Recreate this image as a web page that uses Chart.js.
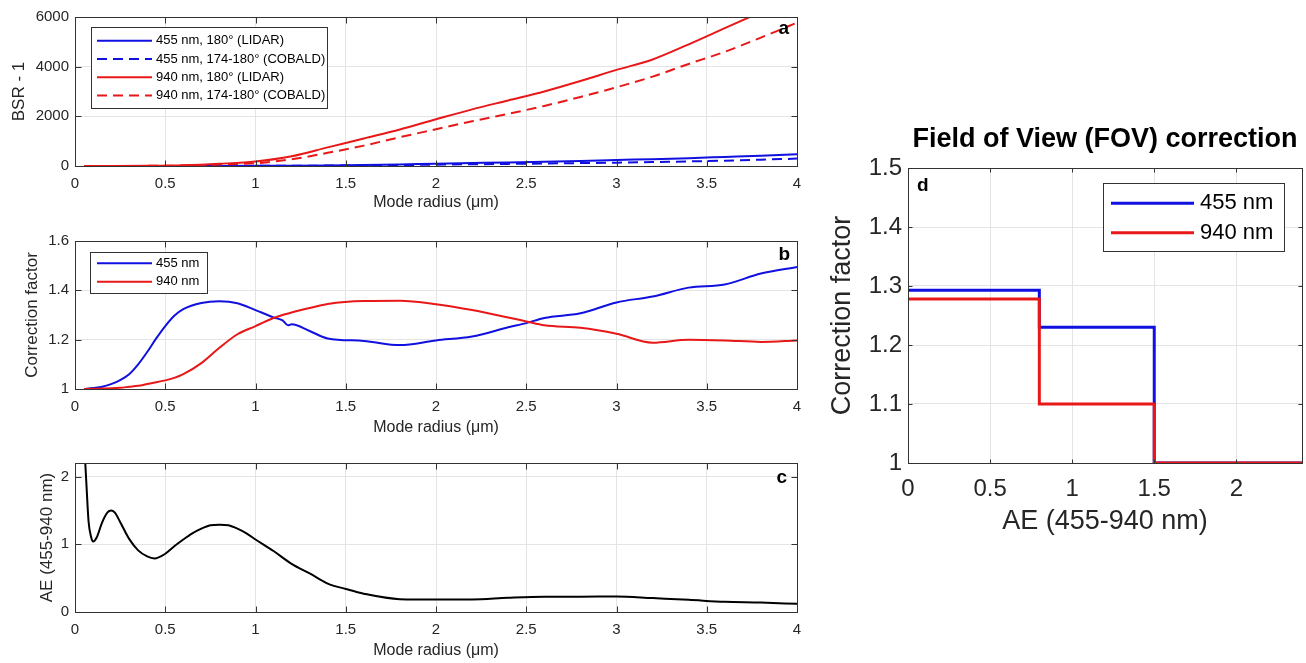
<!DOCTYPE html>
<html>
<head>
<meta charset="utf-8">
<script src="https://cdn.jsdelivr.net/npm/chart.js@4.4.1/dist/chart.umd.min.js"></script>
<style>
  body { margin: 0; background: #fff; width: 1306px; height: 663px; overflow: hidden; position: relative; }
  canvas { position: absolute; }
</style>
</head>
<body>
<canvas id="chartA" style="left:0;top:0" width="815" height="220"></canvas>
<canvas id="chartB" style="left:0;top:222px" width="815" height="220"></canvas>
<canvas id="chartC" style="left:0;top:444px" width="815" height="219"></canvas>
<canvas id="chartD" style="left:820px;top:100px" width="486" height="450"></canvas>
<script>
// ===== 데이터 =====
// 공통 x축 (Mode radius, μm)
const radiusTicks = [0, 0.5, 1, 1.5, 2, 2.5, 3, 3.5, 4];
const radiusTickLabels = ["0", "0.5", "1", "1.5", "2", "2.5", "3", "3.5", "4"];

// a: BSR - 1
const aRadius = [0.05, 0.2, 0.4, 0.6, 0.8, 1.0, 1.2, 1.4, 1.6, 1.8, 2.0, 2.2, 2.4, 2.6, 2.8, 3.0, 3.2, 3.4, 3.6, 3.8, 4.0];
const bsr455Lidar = [0, 0, 0, 1, 3, 8, 15, 25, 40, 65, 95, 120, 145, 175, 205, 243, 275, 315, 365, 415, 475];
const bsr455Cobald = [0, 0, 0, 1, 2, 5, 10, 16, 25, 38, 55, 70, 85, 100, 118, 135, 160, 185, 215, 255, 297];
const bsr940Lidar = [0, 1, 8, 30, 90, 180, 390, 750, 1110, 1470, 1880, 2280, 2640, 3000, 3420, 3870, 4290, 4900, 5550, 6200, 6850];
const bsr940Cobald = [0, 0, 5, 20, 60, 110, 270, 530, 820, 1160, 1480, 1800, 2100, 2420, 2780, 3170, 3600, 4110, 4600, 5170, 5770];
const aYTicks = [0, 2000, 4000, 6000];
const aYTickLabels = ["0", "2000", "4000", "6000"];

// b: Correction factor
const bRadius = [0.05, 0.1, 0.15, 0.2, 0.25, 0.3, 0.35, 0.4, 0.45, 0.5, 0.55, 0.6, 0.7, 0.8, 0.9, 1.0, 1.05, 1.1, 1.15, 1.18,
  1.2, 1.3, 1.4, 1.6, 1.8, 2.0, 2.2, 2.4, 2.5, 2.6, 2.8, 3.0, 3.2, 3.4, 3.6, 3.8, 4.0];
const corr455 = [1.0, 1.004, 1.009, 1.02, 1.036, 1.06, 1.1, 1.15, 1.205, 1.255, 1.297, 1.324, 1.349, 1.356, 1.348, 1.32, 1.305, 1.29, 1.278, 1.258,
  1.262, 1.235, 1.205, 1.195, 1.178, 1.197, 1.213, 1.25, 1.267, 1.288, 1.307, 1.351, 1.375, 1.411, 1.424, 1.468, 1.495];
const corr940 = [1.0, 1.001, 1.002, 1.003, 1.005, 1.009, 1.013, 1.02, 1.027, 1.035, 1.045, 1.06, 1.105, 1.167, 1.222, 1.255, 1.272, 1.288, 1.3, 1.306,
  1.31, 1.328, 1.345, 1.357, 1.358, 1.344, 1.32, 1.29, 1.274, 1.258, 1.248, 1.224, 1.188, 1.2, 1.197, 1.191, 1.197];
const bYTicks = [1, 1.2, 1.4, 1.6];
const bYTickLabels = ["1", "1.2", "1.4", "1.6"];

// c: AE (455-940 nm)
const cRadius = [0.056, 0.065, 0.075, 0.09, 0.1, 0.12, 0.15, 0.18, 0.2, 0.22, 0.25, 0.3, 0.35, 0.4, 0.44, 0.5, 0.55, 0.6, 0.65, 0.7,
  0.75, 0.8, 0.85, 0.9, 0.95, 1.0, 1.1, 1.2, 1.3, 1.4, 1.5, 1.6, 1.8, 2.0, 2.2, 2.4, 2.6, 2.8, 3.0, 3.2, 3.4, 3.6, 3.8, 4.0];
const aeValues = [2.25, 1.8, 1.34, 1.1, 1.04, 1.1, 1.32, 1.47, 1.5, 1.47, 1.33, 1.08, 0.91, 0.82, 0.79, 0.86, 0.97, 1.07, 1.16, 1.23,
  1.28, 1.29, 1.28, 1.23, 1.16, 1.07, 0.9, 0.71, 0.57, 0.42, 0.34, 0.27, 0.19, 0.185, 0.185, 0.21, 0.225, 0.225, 0.23, 0.205, 0.18, 0.15, 0.14, 0.12];
const cYTicks = [0, 1, 2];
const cYTickLabels = ["0", "1", "2"];

// d: FOV correction (계단형)
const dAE = [0, 0.8, 1.5, 2.4];
const fov455 = [1.293, 1.23, 1.0, 1.0];
const fov940 = [1.278, 1.1, 1.0, 1.0];
const dXTicks = [0, 0.5, 1, 1.5, 2];
const dXTickLabels = ["0", "0.5", "1", "1.5", "2"];
const dYTicks = [1, 1.1, 1.2, 1.3, 1.4, 1.5];
const dYTickLabels = ["1", "1.1", "1.2", "1.3", "1.4", "1.5"];

// ===== 스타일 =====
const BLUE = "#1010e0";
const RED = "#e81818";
const GRID = "#e4e4e4";
const BOX = "#333333";

Chart.defaults.font.family = '"Liberation Sans", Arial, Helvetica, sans-serif';
Chart.defaults.color = "#262626";
Chart.defaults.animation = false;

// x, y 배열 → {x, y} 점
function toPoints(xs, ys) {
  return xs.map((x, i) => ({ x, y: ys[i] }));
}

// MATLAB 스타일 박스 + 안쪽 눈금
const matlabAxes = {
  id: "matlabAxes",
  afterDatasetsDraw(chart, args, opts) {
    const { ctx, chartArea: area, scales } = chart;
    const tl = opts.tickLength || 6;
    const left = Math.round(area.left) + 0.5;
    const right = Math.round(area.right) + 0.5;
    const top = Math.round(area.top) + 0.5;
    const bottom = Math.round(area.bottom) + 0.5;
    ctx.save();
    ctx.strokeStyle = BOX;
    ctx.lineWidth = 1;
    ctx.setLineDash([]);
    ctx.beginPath();
    scales.x.ticks.forEach((t) => {
      const px = Math.round(scales.x.getPixelForValue(t.value)) + 0.5;
      ctx.moveTo(px, bottom);
      ctx.lineTo(px, bottom - tl);
      ctx.moveTo(px, top);
      ctx.lineTo(px, top + tl);
    });
    scales.y.ticks.forEach((t) => {
      const py = Math.round(scales.y.getPixelForValue(t.value)) + 0.5;
      ctx.moveTo(left, py);
      ctx.lineTo(left + tl, py);
      ctx.moveTo(right, py);
      ctx.lineTo(right - tl, py);
    });
    ctx.stroke();
    ctx.strokeRect(left, top, right - left, bottom - top);
    ctx.restore();
  },
};

// 패널 안쪽 범례
const insideLegend = {
  id: "insideLegend",
  afterDraw(chart, args, opts) {
    if (!opts.box) return;
    const { ctx } = chart;
    const [x, y, w, h] = opts.box;
    ctx.save();
    ctx.fillStyle = "#fff";
    ctx.fillRect(x, y, w, h);
    ctx.strokeStyle = BOX;
    ctx.lineWidth = 1;
    ctx.strokeRect(x + 0.5, y + 0.5, w, h);
    ctx.font = opts.font;
    ctx.textBaseline = "middle";
    chart.data.datasets.forEach((ds, i) => {
      const ry = opts.firstRow + i * opts.rowGap;
      ctx.strokeStyle = ds.borderColor;
      ctx.lineWidth = ds.borderWidth;
      ctx.setLineDash(ds.borderDash || []);
      ctx.beginPath();
      ctx.moveTo(opts.lineX[0], ry);
      ctx.lineTo(opts.lineX[1], ry);
      ctx.stroke();
      ctx.fillStyle = "#000";
      ctx.fillText(ds.label, opts.textX, ry);
    });
    ctx.restore();
  },
};

// 패널 글자 (a, b, c, d)
const panelLetter = {
  id: "panelLetter",
  afterDraw(chart, args, opts) {
    if (!opts.text) return;
    const { ctx } = chart;
    ctx.save();
    ctx.font = "bold 19px " + Chart.defaults.font.family;
    ctx.fillStyle = "#000";
    ctx.textAlign = opts.align || "right";
    ctx.textBaseline = "middle";
    ctx.fillText(opts.text, opts.x, opts.y);
    ctx.restore();
  },
};

Chart.register(matlabAxes, insideLegend, panelLetter);

// 왼쪽 세 패널 공통 x축
function radiusAxis(height, titlePad) {
  return {
    type: "linear",
    min: 0,
    max: 4,
    afterBuildTicks: (s) => { s.ticks = radiusTicks.map((v) => ({ value: v })); },
    afterFit: (s) => { s.height = height; },
    grid: { color: GRID, drawTicks: false },
    border: { display: false },
    ticks: {
      autoSkip: false,
      maxRotation: 0,
      padding: 9,
      font: { size: 15 },
      callback: (v, i) => radiusTickLabels[i],
    },
    title: { display: true, text: "Mode radius (μm)", font: { size: 16 }, padding: { top: 0, bottom: titlePad } },
  };
}

function valueAxis(min, max, ticks, labels, title, titlePad, width, tickFont) {
  return {
    type: "linear",
    min,
    max,
    afterBuildTicks: (s) => { s.ticks = ticks.map((v) => ({ value: v })); },
    afterFit: (s) => { s.width = width; },
    grid: { color: GRID, drawTicks: false },
    border: { display: false },
    ticks: { padding: 6, font: { size: tickFont }, callback: (v, i) => labels[i] },
    title: { display: true, text: title, font: { size: tickFont === 15 ? 17 : 27 }, padding: { top: titlePad, bottom: 0 } },
  };
}

// order 값이 작을수록 위에 그려짐 (MATLAB처럼 나중 선이 위로)
function line(label, xs, ys, color, order, extra) {
  return Object.assign({
    label,
    data: toPoints(xs, ys),
    borderColor: color,
    backgroundColor: color,
    borderWidth: 2,
    pointRadius: 0,
    fill: false,
    order,
    cubicInterpolationMode: "monotone",
  }, extra || {});
}

// ===== a =====
new Chart(document.getElementById("chartA"), {
  type: "line",
  data: {
    datasets: [
      line("455 nm, 180° (LIDAR)", aRadius, bsr455Lidar, BLUE, 4),
      line("455 nm, 174-180° (COBALD)", aRadius, bsr455Cobald, BLUE, 3, { borderDash: [10, 6] }),
      line("940 nm, 180° (LIDAR)", aRadius, bsr940Lidar, RED, 2),
      line("940 nm, 174-180° (COBALD)", aRadius, bsr940Cobald, RED, 1, { borderDash: [10, 6] }),
    ],
  },
  options: {
    responsive: false,
    layout: { padding: { top: 17, right: 18, left: 0, bottom: 0 } },
    scales: {
      x: radiusAxis(54, 7.4),
      y: valueAxis(0, 6000, aYTicks, aYTickLabels, "BSR - 1", 8.8, 75, 15),
    },
    plugins: {
      legend: { display: false },
      tooltip: { enabled: false },
      matlabAxes: { tickLength: 6 },
      insideLegend: { box: [91, 27, 236, 81], firstRow: 40.7, rowGap: 18.3, lineX: [97, 152], textX: 156, font: "13px " + Chart.defaults.font.family },
      panelLetter: { text: "a", x: 789, y: 29 },
    },
  },
});

// ===== b =====
new Chart(document.getElementById("chartB"), {
  type: "line",
  data: {
    datasets: [
      line("455 nm", bRadius, corr455, BLUE, 2),
      line("940 nm", bRadius, corr940, RED, 1),
    ],
  },
  options: {
    responsive: false,
    layout: { padding: { top: 19, right: 18, left: 0, bottom: 0 } },
    scales: {
      x: radiusAxis(53, 4.4),
      y: valueAxis(1, 1.6, bYTicks, bYTickLabels, "Correction factor", 22.3, 75, 15),
    },
    plugins: {
      legend: { display: false },
      tooltip: { enabled: false },
      matlabAxes: { tickLength: 6 },
      insideLegend: { box: [90, 30, 117, 41], firstRow: 41.3, rowGap: 18.4, lineX: [97, 152], textX: 156, font: "13px " + Chart.defaults.font.family },
      panelLetter: { text: "b", x: 790, y: 33 },
    },
  },
});

// ===== c =====
new Chart(document.getElementById("chartC"), {
  type: "line",
  data: {
    datasets: [line("AE", cRadius, aeValues, "#000000", 1)],
  },
  options: {
    responsive: false,
    layout: { padding: { top: 19, right: 18, left: 0, bottom: 0 } },
    scales: {
      x: radiusAxis(51, 2.4),
      y: valueAxis(0, 2.2, cYTicks, cYTickLabels, "AE (455-940 nm)", 37.3, 75, 15),
    },
    plugins: {
      legend: { display: false },
      tooltip: { enabled: false },
      matlabAxes: { tickLength: 6 },
      panelLetter: { text: "c", x: 787, y: 33.5 },
    },
  },
});

// ===== d =====
const dX = {
  type: "linear",
  min: 0,
  max: 2.4,
  afterBuildTicks: (s) => { s.ticks = dXTicks.map((v) => ({ value: v })); },
  afterFit: (s) => { s.height = 87; },
  grid: { color: GRID, drawTicks: false },
  border: { display: false },
  ticks: { autoSkip: false, maxRotation: 0, padding: 11.6, font: { size: 24 }, callback: (v, i) => dXTickLabels[i] },
  title: { display: true, text: "AE (455-940 nm)", font: { size: 27 }, padding: { top: 0, bottom: 11.8 } },
};

new Chart(document.getElementById("chartD"), {
  type: "line",
  data: {
    datasets: [
      line("455 nm", dAE, fov455, BLUE, 2, { borderWidth: 3, stepped: "before", cubicInterpolationMode: "default" }),
      line("940 nm", dAE, fov940, RED, 1, { borderWidth: 3, stepped: "before", cubicInterpolationMode: "default" }),
    ],
  },
  options: {
    responsive: false,
    layout: { padding: { top: 0, right: 4, left: 0, bottom: 0 } },
    scales: {
      x: dX,
      y: valueAxis(1, 1.5, dYTicks, dYTickLabels, "Correction factor", 6.8, 88, 24),
    },
    plugins: {
      legend: { display: false },
      tooltip: { enabled: false },
      title: {
        display: true,
        text: "Field of View (FOV) correction",
        fullSize: false,
        color: "#000",
        font: { size: 27, weight: "bold" },
        padding: { top: 23.8, bottom: 11.8 },
      },
      matlabAxes: { tickLength: 4 },
      insideLegend: { box: [283, 83, 181, 68], firstRow: 103.3, rowGap: 29.4, lineX: [291, 374], textX: 380, font: "22px " + Chart.defaults.font.family },
      panelLetter: { text: "d", x: 97, y: 86, align: "left" },
    },
  },
});
</script>
</body>
</html>
